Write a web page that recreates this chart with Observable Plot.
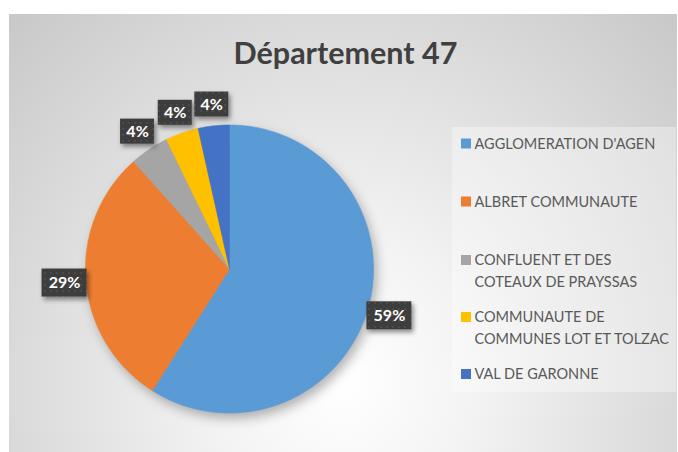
<!DOCTYPE html>
<html><head><meta charset="utf-8">
<script src="https://cdn.jsdelivr.net/npm/d3@7"></script>
<script src="https://cdn.jsdelivr.net/npm/@observablehq/plot@0.6"></script>
<style>
html,body{margin:0;padding:0;background:#fff;}
#wrap{position:relative;width:678px;height:452px;overflow:hidden;}
#bg{position:absolute;left:9px;top:14px;width:668px;height:438px;
  background:radial-gradient(ellipse farthest-corner at 50% 84%, #ffffff 0%, #f3f3f3 28%, #c8c8c8 100%);}
#wrap svg{position:absolute;left:0;top:0;}
</style></head><body><div id="wrap"><div id="bg"></div></div>
<script>
const title = "Département 47";
const categories = ["AGGLOMERATION D'AGEN","ALBRET COMMUNAUTE","CONFLUENT ET DES COTEAUX DE PRAYSSAS","COMMUNAUTE DE COMMUNES LOT ET TOLZAC","VAL DE GARONNE"];
const legendLines = [["AGGLOMERATION D'AGEN"],["ALBRET COMMUNAUTE"],["CONFLUENT ET DES","COTEAUX DE PRAYSSAS"],["COMMUNAUTE DE","COMMUNES LOT ET TOLZAC"],["VAL DE GARONNE"]];
const shares = [59.0, 29.4, 4.4, 3.7, 3.5];
const pctLabels = ["59%","29%","4%","4%","4%"];
const colors = ["#5B9BD5","#ED7D31","#A5A5A5","#FFC000","#4472C4"];

// layout
const W = 678, H = 452, cx = 229.5, cy = 269, R = 144, labelR = 166;
const legendX = 461, legendRowY = [143.5, 201.5, 260, 317, 374], lineH = 21.5;
const FONT = "Lato, 'Open Sans', sans-serif";
const BOX = "#3f3f3e";

const arcs = d3.pie().sort(null).value(d => d)(shares);
const slicePts = [];
arcs.forEach((a, i) => {
  slicePts.push({k: i, x: cx, y: cy});
  const n = Math.max(8, Math.ceil((a.endAngle - a.startAngle) * 80));
  for (let j = 0; j <= n; j++) {
    const t = a.startAngle + (a.endAngle - a.startAngle) * j / n;
    slicePts.push({k: i, x: cx + R * Math.sin(t), y: cy - R * Math.cos(t)});
  }
  slicePts.push({k: i, x: cx, y: cy});
});

const labs = arcs.map((a, i) => {
  const m = (a.startAngle + a.endAngle) / 2;
  const big = pctLabels[i].length > 2;
  return {x: cx + labelR * Math.sin(m), y: cy - labelR * Math.cos(m), text: pctLabels[i], w: big ? 45 : 34, h: big ? 28 : 25};
});

const legendItems = categories.map((c, i) => ({i, y: legendRowY[i]}));
const legendText = [];
legendLines.forEach((lines, i) => lines.forEach((t, j) => legendText.push({text: t, y: legendRowY[i] + j * lineH})));

const plot = Plot.plot({
  width: W, height: H, margin: 0,
  x: {domain: [0, W], range: [0, W], axis: null},
  y: {domain: [0, H], range: [0, H], axis: null},
  color: {type: "identity"},
  style: {background: "transparent", fontFamily: FONT, overflow: "visible"},
  marks: [
    Plot.rect([0], {x1: 452, x2: 676, y1: 127, y2: 392, fill: "white", fillOpacity: 0.35}),
    Plot.dot([0], {x: cx + 3, y: cy + 5, r: R, fill: "#000", fillOpacity: 0.3, stroke: null}),
    Plot.area(slicePts, {x1: "x", y1: "y", x2: cx, y2: cy, z: "k", fill: d => colors[d.k], stroke: d => colors[d.k], strokeWidth: 0.6}),
    Plot.rect(labs, {x1: d => d.x - d.w / 2, x2: d => d.x + d.w / 2, y1: d => d.y - d.h / 2, y2: d => d.y + d.h / 2, fill: BOX}),
    Plot.text(labs, {x: "x", y: "y", text: "text", fill: "white", fontWeight: "bold", fontSize: 16, fontFamily: FONT}),
    Plot.text([title], {x: 345, y: 54, text: d => d, fill: "#404040", fontWeight: "bold", fontSize: 30.5, fontFamily: FONT}),
    Plot.rect(legendItems, {x1: legendX, x2: legendX + 10, y1: d => d.y - 5, y2: d => d.y + 5, fill: d => colors[d.i]}),
    Plot.text(legendText, {x: legendX + 13, y: "y", text: "text", textAnchor: "start", fill: "#595959", fontSize: 14.5, fontFamily: FONT})
  ]
});

const ns = "http://www.w3.org/2000/svg";
const defs = document.createElementNS(ns, "defs");
defs.innerHTML = `
<filter id="blur" x="-30%" y="-30%" width="160%" height="160%"><feGaussianBlur stdDeviation="6"/></filter>
<filter id="lsh" x="-30%" y="-30%" width="170%" height="170%"><feDropShadow dx="2" dy="3" stdDeviation="2.5" flood-color="#000" flood-opacity="0.45"/></filter>
<pattern id="dots" width="6" height="6" patternUnits="userSpaceOnUse"><rect width="6" height="6" fill="#3d3d3d"/><circle cx="3" cy="3" r="0.9" fill="#525252"/></pattern>`;
plot.insertBefore(defs, plot.firstChild);
const gsh = plot.querySelector('g[aria-label="dot"]'); if (gsh) gsh.setAttribute("filter", "url(#blur)");
const gb = plot.querySelector(`g[fill="${BOX}"]`); if (gb) { gb.setAttribute("fill", "url(#dots)"); gb.setAttribute("filter", "url(#lsh)"); }
document.getElementById("wrap").appendChild(plot);
</script></body></html>
